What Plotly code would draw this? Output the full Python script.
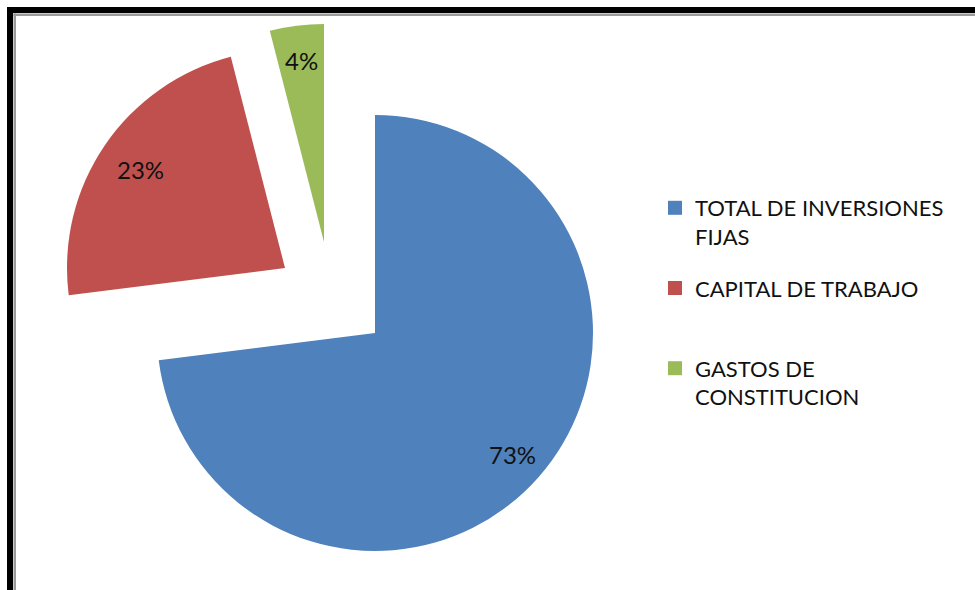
import math
import plotly.graph_objects as go

# ---------------- data ----------------
categories = ["TOTAL DE INVERSIONES FIJAS", "CAPITAL DE TRABAJO", "GASTOS DE CONSTITUCION"]
values = [73, 23, 4]
legend_labels = ["TOTAL DE INVERSIONES<br>FIJAS", "CAPITAL DE TRABAJO<br>&nbsp;", "GASTOS DE<br>CONSTITUCION"]

# ---------------- style / layout ----------------
colors = ["#4F81BD", "#C0504D", "#9BBB59"]
W, H = 975, 590
R = 218                      # pie radius in px
base_center = (375, 333)     # pie centre in px
explode = [(0, 0), (-90, -65), (-51, -91)]   # per-slice explode offset in px
label_radius = [0.84, 0.80, 0.84]            # label distance from apex (fraction of R)
FONT = "Lato"
TEXT_COLOR = "#111111"

fig = go.Figure()

total = sum(values)
cum = 0.0
for i, v in enumerate(values):
    cx = base_center[0] + explode[i][0]
    cy = base_center[1] + explode[i][1]
    slice_colors = [colors[j] if j == i else "rgba(0,0,0,0)" for j in range(len(values))]
    fig.add_trace(go.Pie(
        labels=categories, values=values, sort=False, direction="clockwise", rotation=0,
        marker=dict(colors=slice_colors, line=dict(width=0)),
        textinfo="none", showlegend=False, hoverinfo="skip",
        domain=dict(x=[(cx - R) / W, (cx + R) / W], y=[1 - (cy + R) / H, 1 - (cy - R) / H]),
    ))
    # percentage label along slice mid-angle
    mid = (cum + v / 2) / total * 2 * math.pi
    lx = cx + label_radius[i] * R * math.sin(mid)
    ly = cy - label_radius[i] * R * math.cos(mid)
    fig.add_annotation(x=lx / W, y=1 - ly / H, xref="paper", yref="paper",
                       xanchor="center", yanchor="middle",
                       text=f"{round(v / total * 100)}%", showarrow=False,
                       font=dict(family=FONT, size=24, color=TEXT_COLOR))
    cum += v

# legend entries
for i, name in enumerate(legend_labels):
    fig.add_trace(go.Scatter(x=[None], y=[None], mode="markers", name=name,
                             legendgroup=f"g{i}",
                             marker=dict(symbol="square", size=14, color=colors[i]),
                             hoverinfo="skip"))

# frame lines (top & left)
shapes = [
    dict(type="rect", xref="paper", yref="paper", x0=7 / W, x1=1.0, y0=1 - 13 / H, y1=1 - 7 / H,
         fillcolor="#000000", line=dict(width=0)),
    dict(type="rect", xref="paper", yref="paper", x0=7 / W, x1=13 / W, y0=0, y1=1 - 7 / H,
         fillcolor="#000000", line=dict(width=0)),
    dict(type="rect", xref="paper", yref="paper", x0=13.5 / W, x1=1.0, y0=1 - 16 / H, y1=1 - 13.5 / H,
         fillcolor="#9a9a9a", line=dict(width=0)),
    dict(type="rect", xref="paper", yref="paper", x0=13.5 / W, x1=16 / W, y0=0, y1=1 - 13.5 / H,
         fillcolor="#9a9a9a", line=dict(width=0)),
]

fig.update_layout(
    width=W, height=H,
    margin=dict(l=0, r=0, t=0, b=0),
    paper_bgcolor="white", plot_bgcolor="white",
    xaxis=dict(visible=False), yaxis=dict(visible=False),
    shapes=shapes,
    font=dict(family=FONT, size=22, color=TEXT_COLOR),
    legend=dict(x=655 / W, xanchor="left", y=1 - 187 / H, yanchor="top",
                valign="top", tracegroupgap=20, bgcolor="rgba(0,0,0,0)",
                font=dict(family=FONT, size=22, color=TEXT_COLOR)),
    showlegend=True,
)

fig.write_html("out.html", config={"displayModeBar": False},
               post_script="document.body.style.margin='0';document.body.style.overflow='hidden';")
